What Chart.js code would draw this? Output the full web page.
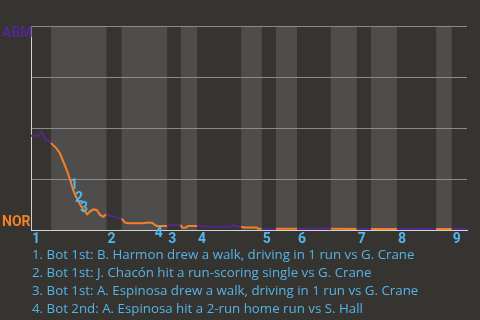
<!DOCTYPE html>
<html>
<head>
<meta charset="utf-8">
<script src="https://cdn.jsdelivr.net/npm/chart.js@4"></script>
<style>
html,body{margin:0;padding:0;background:#363430;}
#wrap{position:relative;width:480px;height:320px;overflow:hidden;}
#notes{position:absolute;left:32px;top:245px;font-family:"Open Sans",sans-serif;font-size:13.3px;line-height:18px;color:#55b3e6;white-space:nowrap;}
</style>
</head>
<body>
<div id="wrap">
<canvas id="wpChart" width="480" height="320"></canvas>
<div id="notes"></div>
</div>
<script>

/* ---------------- DATA ---------------- */

const teamTop = "ABM"
const teamBottom = "NOR"

// play position along the game, and ABM win probability after it
const playX = [0,1.4,2.2,3.1,3.6,4.1,5.2,5.9,6.6,7.3,8.0,8.5,9.0,9.7,10.3,11.0,11.5,12.0,12.7,13.4,14.1,14.8,15.4,
16.1,17.1,17.8,18.5,19.2,19.9,22.9,23.5,24.7,25.3,25.7,27.8,28.4,30.6,30.8,31.6,32.0,33.9,35.5,40.6,41.2,42.0,42.9,
43.5,46.1,46.3,47.1,50.0,54.3,60.2,60.6,61.0,61.2,66.5,69.4,74.7,82.7,85.9,89.0]
const winProb = [.462,.462,.482,.439,.436,.426,.400,.376,.335,.294,.245,.204,.172,.139,.114,.090,.077,.090,.101,.098,.074,.065,.078,
.069,.065,.060,.056,.036,.033,.033,.036,.036,.025,.020,.020,.025,.025,.012,.011,.020,.020,.017,.016,.024,.016,.016,
.012,.012,.006,.006,.006,.006,.006,.013,.006,.006,.005,.005,.005,.005,.005,.005]

// where each half inning starts (top 1st, bot 1st, top 2nd ...)
const halfStarts = [0,4.1,15.4,18.5,27.8,30.6,33.9,42.9,47.1,50.0,54.3,61.2,66.5,69.4,74.7,82.7,85.9]
const gameEnd = 89
const innings = ["1","2","3","4","5","6","7","8","9"]

// key plays
const eventNums = ["1","2","3","4"]
const eventX = [8.8,9.8,10.8,26.1]
const eventY = [.22,.152,.103,-.015]
const eventText = [
"Bot 1st: B. Harmon drew a walk, driving in 1 run vs G. Crane",
"Bot 1st: J. Chacón hit a run-scoring single vs G. Crane",
"Bot 1st: A. Espinosa drew a walk, driving in 1 run vs G. Crane",
"Bot 2nd: A. Espinosa hit a 2-run home run vs S. Hall"
]

/* ---------------- COLORS ---------------- */

const purple = "#52288c"
const orange = "#f5802a"
const blue = "#52b6ec"
const bandLight = "#4e4d4b"

function halfOf(x){
let h = 0
halfStarts.forEach((s,i)=>{ if(x>=s) h=i })
return h
}

/* ---------------- PLUGIN: BANDS + LABELS ---------------- */

const gamePlugin = {
id:"gamePlugin",
beforeDraw(chart){
const c = chart.ctx
const xs = chart.scales.x
const a = chart.chartArea
halfStarts.forEach((s,i)=>{
if(i%2==1){
const end = i+1<halfStarts.length ? halfStarts[i+1] : gameEnd
c.fillStyle = bandLight
c.fillRect(xs.getPixelForValue(s),a.top,xs.getPixelForValue(end)-xs.getPixelForValue(s),a.bottom-a.top)
}
})
},
afterDraw(chart){
const c = chart.ctx
const xs = chart.scales.x
const ys = chart.scales.y
const a = chart.chartArea
c.save()
c.font = "bold 14px Roboto"
c.textBaseline = "middle"
c.textAlign = "left"
c.fillStyle = purple
c.fillText(teamTop,2,ys.getPixelForValue(1)+7)
c.fillStyle = orange
c.fillText(teamBottom,2,ys.getPixelForValue(0)-8)

c.fillStyle = blue
innings.forEach((t,i)=>{
c.fillText(t,xs.getPixelForValue(halfStarts[i*2])+1,a.bottom+9)
})

c.textAlign = "center"
eventNums.forEach((t,i)=>{
c.fillText(t,xs.getPixelForValue(eventX[i]),ys.getPixelForValue(eventY[i]))
})
c.restore()
}
}

/* ---------------- CHART ---------------- */

const ctx = document.getElementById("wpChart").getContext("2d")

new Chart(ctx,{
type:"line",
data:{
datasets:[{
data:playX.map((x,i)=>({x:x,y:winProb[i]})),
borderWidth:2,
pointRadius:0,
tension:0,
borderColor:purple,
segment:{
borderColor:s => halfOf((s.p0.parsed.x+s.p1.parsed.x)/2)%2==0 ? purple : orange
}
}]
},
options:{
responsive:false,
animation:false,
devicePixelRatio:1,
layout:{padding:{left:31,right:13,top:26,bottom:90}},
plugins:{legend:{display:false},tooltip:{enabled:false}},
scales:{
x:{
type:"linear",
min:0,
max:gameEnd,
grid:{display:false,drawTicks:false},
border:{display:true,color:"#d2d2d2",width:1},
ticks:{display:false}
},
y:{
min:0,
max:1,
ticks:{display:false,stepSize:.25},
grid:{color:"#8a8a8a",drawTicks:false},
border:{display:true,color:"#d2d2d2",width:1}
}
}
},
plugins:[gamePlugin]
})

/* ---------------- NOTES ---------------- */

document.getElementById("notes").innerHTML = eventText.map((t,i)=>eventNums[i]+". "+t).join("<br>")

</script>
</body>
</html>
